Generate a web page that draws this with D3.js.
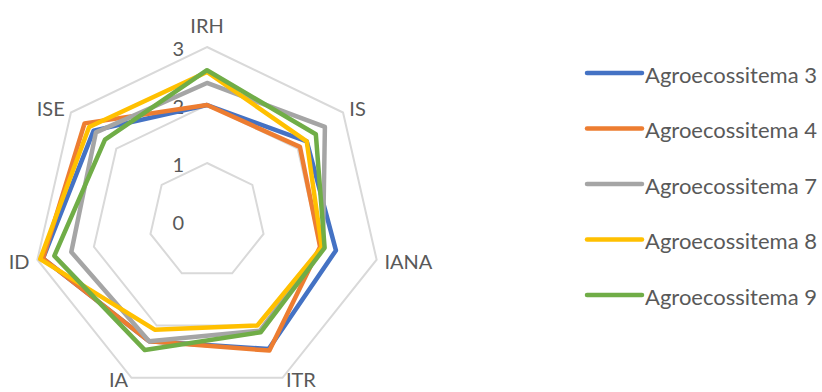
<!DOCTYPE html>
<html>
<head>
<meta charset="utf-8">
<script src="https://cdn.jsdelivr.net/npm/d3@7"></script>
<style>
  html, body { margin: 0; padding: 0; background: #fff; }
  svg { display: block; }
  text { font-family: Lato, "Open Sans", sans-serif; fill: #595959; }
</style>
</head>
<body>
<svg id="chart" width="822" height="392"></svg>
<script>
// Indicators around the radar, clockwise from the top
const axes = ["IRH", "IS", "IANA", "ITR", "IA", "ID", "ISE"];
const seriesNames = ["Agroecossitema 3", "Agroecossitema 4", "Agroecossitema 7", "Agroecossitema 8", "Agroecossitema 9"];
const agro3 = [2.00, 2.20, 2.28, 2.45, 2.30, 2.90, 2.50];
const agro4 = [2.00, 2.05, 2.00, 2.48, 2.30, 2.90, 2.70];
const agro7 = [2.38, 2.60, 2.05, 2.10, 2.30, 2.40, 2.45];
const agro8 = [2.57, 2.20, 2.03, 2.00, 2.08, 2.95, 2.60];
const agro9 = [2.60, 2.40, 2.08, 2.13, 2.47, 2.70, 2.25];
const tickValues = [0, 1, 2, 3];
const colors = ["#4472C4", "#ED7D31", "#A5A5A5", "#FFC000", "#70AD47"];

const allSeries = [agro3, agro4, agro7, agro8, agro9];

const svg = d3.select("#chart");
const cx = 207, cy = 221;

const r = d3.scaleLinear().domain([0, 3]).range([0, 174]);
const angle = d3.scalePoint().domain(axes).range([0, 2 * Math.PI * (axes.length - 1) / axes.length]);

const g = svg.append("g").attr("transform", `translate(${cx},${cy})`);

const radial = d3.lineRadial()
  .angle((d, i) => angle(axes[i]))
  .radius(d => r(d))
  .curve(d3.curveLinearClosed);

// Grid rings
g.selectAll("path.ring")
  .data(tickValues.filter(v => v > 0))
  .join("path")
  .attr("class", "ring")
  .attr("d", v => radial(axes.map(() => v)))
  .attr("fill", "none")
  .attr("stroke", "#D9D9D9")
  .attr("stroke-width", 2);

// Value labels along the vertical axis
g.selectAll("text.tick")
  .data(tickValues)
  .join("text")
  .attr("class", "tick")
  .attr("x", -23)
  .attr("y", v => -r(v) + 1)
  .attr("text-anchor", "end")
  .attr("dominant-baseline", "central")
  .attr("font-size", 20)
  .text(d => d);

// Series polygons
g.selectAll("path.series")
  .data(allSeries)
  .join("path")
  .attr("class", "series")
  .attr("d", d => radial(d))
  .attr("fill", "none")
  .attr("stroke", (d, i) => colors[i])
  .attr("stroke-width", 4.5)
  .attr("stroke-linejoin", "round");

// Category labels just outside the outer ring
const outer = r(3);
g.selectAll("text.cat")
  .data(axes)
  .join("text")
  .attr("class", "cat")
  .each(function (name) {
    const a = angle(name);
    const sx = Math.sin(a), sy = -Math.cos(a);
    const vx = outer * sx, vy = outer * sy;
    const anchor = Math.abs(sx) < 0.1 ? "middle" : (sx > 0 ? "start" : "end");
    const oy = sy < -0.9 ? sy * 8 - 14 : (sy > 0.8 ? 1 : sy * 8);
    d3.select(this)
      .attr("x", vx + sx * 8)
      .attr("y", vy + oy)
      .attr("text-anchor", anchor)
      .attr("dominant-baseline", "central")
      .attr("font-size", 20)
      .text(name);
  });

// Legend
const legend = svg.append("g").attr("transform", "translate(587,73)");
const rowStep = 55.5;
const item = legend.selectAll("g")
  .data(seriesNames)
  .join("g")
  .attr("transform", (d, i) => `translate(0,${i * rowStep})`);
item.append("line")
  .attr("x1", 0).attr("x2", 55)
  .attr("y1", 0).attr("y2", 0)
  .attr("stroke", (d, i) => colors[i])
  .attr("stroke-width", 4.5)
  .attr("stroke-linecap", "round");
item.append("text")
  .attr("x", 58)
  .attr("y", 1)
  .attr("dominant-baseline", "central")
  .attr("font-size", 22)
  .text(d => d);
</script>
</body>
</html>
